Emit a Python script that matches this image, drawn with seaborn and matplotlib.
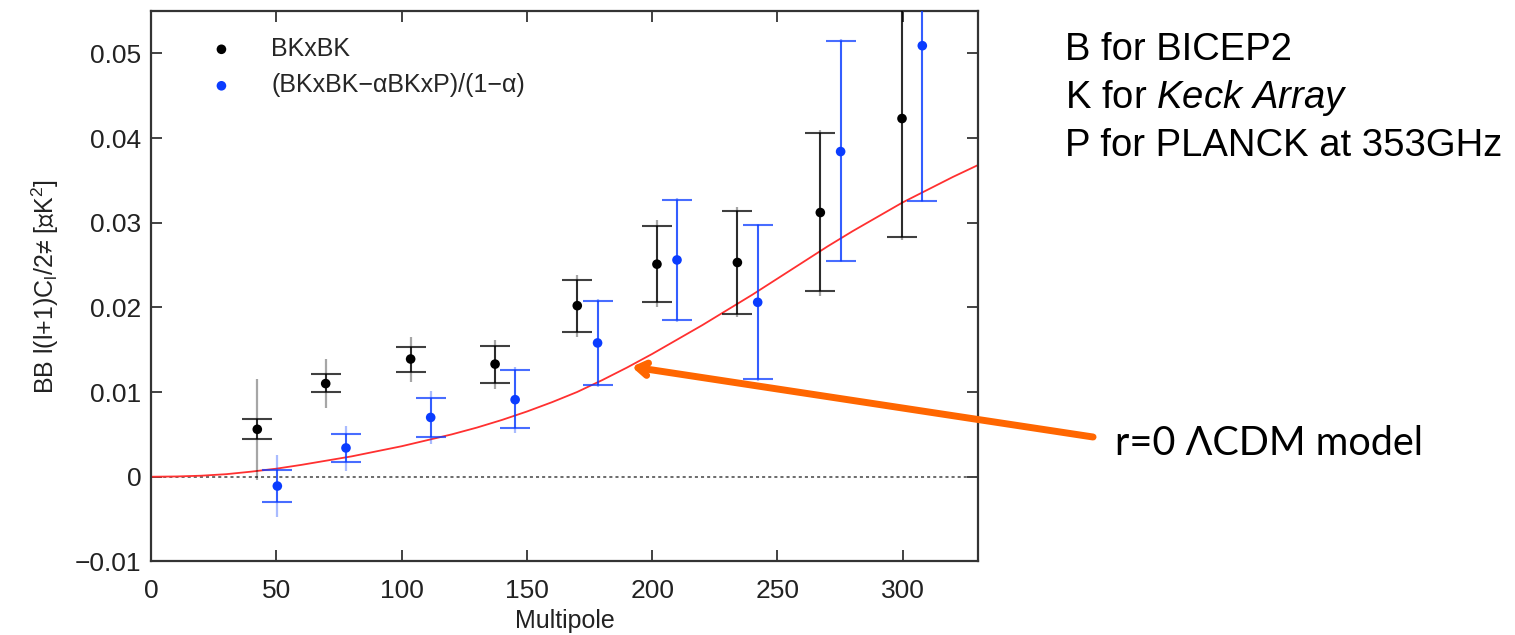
import matplotlib
matplotlib.use('Agg')
import matplotlib.pyplot as plt
import numpy as np
import seaborn as sns

# BKxBK bandpowers (centre, capped error range, outer thin error range)
ell_bk = [42.4, 69.7, 103.6, 137.3, 170.1, 201.9, 234.0, 267.1, 299.7]
bb_bk = [0.0056, 0.0110, 0.0139, 0.0133, 0.0202, 0.0251, 0.0253, 0.0312, 0.0423]
cap_lo_bk = [0.0044, 0.0100, 0.0124, 0.0111, 0.0171, 0.0206, 0.0192, 0.0219, 0.0283]
cap_hi_bk = [0.0068, 0.0121, 0.0153, 0.0154, 0.0232, 0.0296, 0.0314, 0.0406, 0.0564]
out_lo_bk = [-0.0004, 0.0081, 0.0112, 0.0104, 0.0165, 0.0201, 0.0189, 0.0214, 0.0280]
out_hi_bk = [0.0115, 0.0139, 0.0165, 0.0161, 0.0238, 0.0303, 0.0318, 0.0409, 0.0567]

# (BKxBK - alpha BKxP)/(1 - alpha) bandpowers
ell_bkp = [50.4, 77.8, 111.6, 145.3, 178.2, 209.9, 242.1, 275.2, 307.8]
bb_bkp = [-0.0011, 0.0034, 0.0070, 0.0091, 0.0158, 0.0256, 0.0206, 0.0384, 0.0509]
cap_lo_bkp = [-0.0030, 0.0017, 0.0047, 0.0057, 0.0108, 0.0185, 0.0115, 0.0255, 0.0326]
cap_hi_bkp = [0.0008, 0.0050, 0.0093, 0.0126, 0.0208, 0.0327, 0.0297, 0.0515, 0.0692]
out_lo_bkp = [-0.0047, 0.0007, 0.0039, 0.0052, 0.0106, 0.0183, 0.0113, 0.0253, 0.0324]
out_hi_bkp = [0.0026, 0.0060, 0.0101, 0.0130, 0.0210, 0.0329, 0.0299, 0.0517, 0.0694]

# r=0 LCDM lensing model
ell_model = [0, 10, 20, 30, 40, 50, 60, 70, 80, 90, 100, 110, 120, 130, 140, 150,
             160, 170, 180, 190, 200, 210, 220, 230, 240, 250, 260, 270, 280, 290,
             300, 310, 320, 330]
bb_model = [0, 0.00003, 0.00012, 0.0003, 0.0006, 0.00095, 0.0014, 0.0019, 0.0024,
            0.0030, 0.0036, 0.0043, 0.0050, 0.0058, 0.0067, 0.0077, 0.0088, 0.0100,
            0.0114, 0.0129, 0.0145, 0.0162, 0.0179, 0.0197, 0.0215, 0.0234, 0.0253,
            0.0272, 0.0290, 0.0307, 0.0324, 0.0339, 0.0354, 0.0368]

xticks = [0, 50, 100, 150, 200, 250, 300]
yticks = [-0.01, 0, 0.01, 0.02, 0.03, 0.04, 0.05]
ytick_labels = ['\u22120.01', '0', '0.01', '0.02', '0.03', '0.04', '0.05']

sns.set_style('ticks')
plt.rcParams['font.family'] = ['Liberation Sans', 'DejaVu Sans']
plt.rcParams['mathtext.fontset'] = 'custom'
plt.rcParams['mathtext.rm'] = 'Liberation Sans'
plt.rcParams['mathtext.it'] = 'Liberation Sans:italic'
plt.rcParams['mathtext.default'] = 'regular'

fig, ax = plt.subplots(figsize=(15.15, 6.35), dpi=100)
fig.subplots_adjust(left=0.0997, right=0.6455, bottom=0.1159, top=0.9827)

ax.axhline(0, color='#444444', lw=1.1, ls=(0, (2, 2)), zorder=1)
sns.lineplot(x=ell_model, y=bb_model, color='#ff3030', lw=1.3, ax=ax, zorder=2)

series = [
    (ell_bk, bb_bk, cap_lo_bk, cap_hi_bk, out_lo_bk, out_hi_bk, 'black'),
    (ell_bkp, bb_bkp, cap_lo_bkp, cap_hi_bkp, out_lo_bkp, out_hi_bkp, '#0a3cff'),
]
for x, y, clo, chi, olo, ohi, col in series:
    x = np.array(x); y = np.array(y)
    ax.errorbar(x, y, yerr=[y - np.array(olo), np.array(ohi) - y], fmt='none',
                ecolor=col, elinewidth=1.6, alpha=0.35, zorder=3)
    ax.errorbar(x, y, yerr=[y - np.array(clo), np.array(chi) - y], fmt='none',
                ecolor=col, elinewidth=1.4, capsize=11, capthick=1.5, alpha=0.75, zorder=3)

sns.scatterplot(x=ell_bk, y=bb_bk, color='black', s=48, edgecolor='none',
                label='BKxBK', ax=ax, zorder=4)
sns.scatterplot(x=ell_bkp, y=bb_bkp, color='#0a3cff', s=48, edgecolor='none',
                label='(BKxBK\u2212\u03b1BKxP)/(1\u2212\u03b1)', ax=ax, zorder=4)

ax.set_xlim(0, 330)
ax.set_ylim(-0.01, 0.055)
ax.set_xticks(xticks)
ax.set_yticks(yticks)
ax.set_yticklabels(ytick_labels)
ax.tick_params(direction='in', top=True, right=True, length=8, width=1.2,
               labelsize=19, colors='#222222')
ax.tick_params(axis='x', pad=13)
ax.tick_params(axis='y', pad=7)
for s in ax.spines.values():
    s.set_linewidth(1.6)
    s.set_color('#333333')

ax.set_xlabel('Multipole', fontsize=18, color='#222222', labelpad=4)
ax.set_ylabel('BB l(l+1)C$_l$/2\u2260 [\u221dK$^2$]', fontsize=18, color='#222222', labelpad=10)

ax.legend(loc='upper left', bbox_to_anchor=(0.07, 0.953), frameon=False, fontsize=18,
          borderpad=0, borderaxespad=0, handlelength=1, handletextpad=1.5,
          labelspacing=0.5)

# annotation arrow pointing at the model curve
ax.annotate('', xy=(191.8, 0.01298), xycoords='data',
            xytext=(0.7215, 0.3118), textcoords='figure fraction',
            arrowprops=dict(arrowstyle='->,head_length=0.7,head_width=0.45',
                            color='#ff6600', lw=5, shrinkA=0, shrinkB=0),
            annotation_clip=False)
fig.text(1115 / 1515, 1 - 455 / 635, 'r=0 \u039bCDM model', fontsize=28.5,
         family=['Lato', 'DejaVu Sans'], va='baseline', color='black')

fig.text(1065 / 1515, 1 - 60 / 635, 'B for BICEP2', fontsize=27.5, va='baseline', color='black')
fig.text(1065 / 1515, 1 - 108 / 635, 'K for $\\mathit{Keck\\ Array}$', fontsize=27.5,
         va='baseline', color='black')
fig.text(1065 / 1515, 1 - 156.5 / 635, 'P for PLANCK at 353GHz', fontsize=27.5,
         va='baseline', color='black')

fig.savefig('out.png', dpi=100)
